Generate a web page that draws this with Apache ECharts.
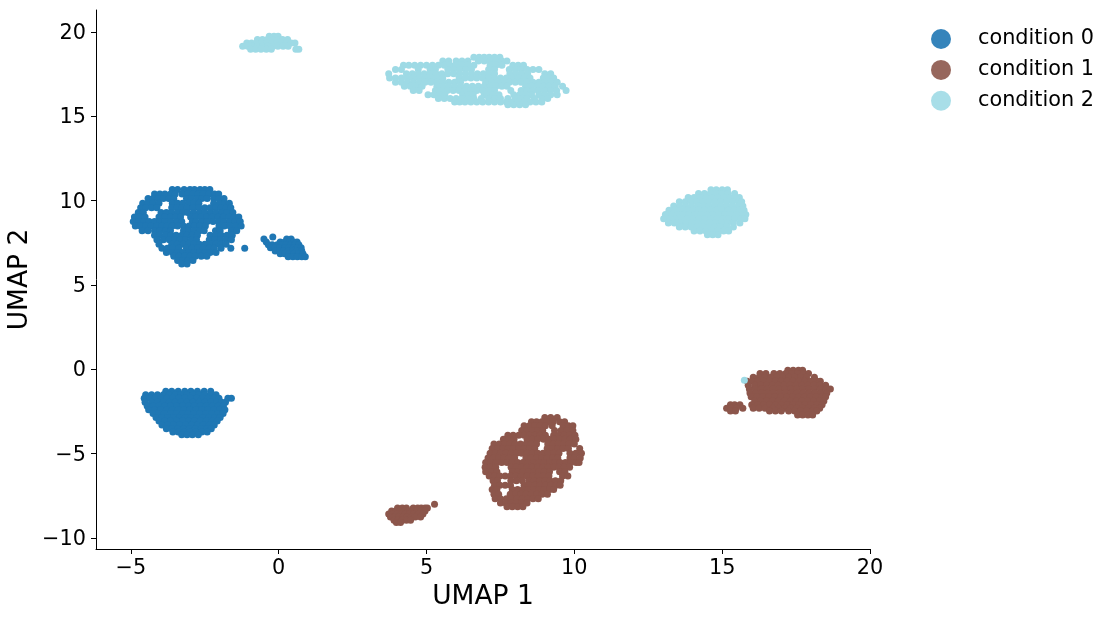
<!DOCTYPE html>
<html><head><meta charset="utf-8">
<script src="https://cdn.jsdelivr.net/npm/echarts@6/dist/echarts.min.js"></script>
<style>html,body{margin:0;background:#fff}#c{width:1112px;height:620px}</style></head>
<body><div id="c"></div>
<script>
// Each row: [y, x, x, x ...], data units.
const blueUpper = [
[10.66,-3.6,-3.42,-3.2,-3.0,-2.85,-2.66,-2.5,-2.33],
[10.4,-4.2,-4.02,-3.85,-3.66,-3.5,-3.27,-3.08,-2.9,-2.72,-2.55,-2.36,-2.17,-2.03],
[10.12,-4.42,-4.25,-4.07,-3.9,-3.72,-3.55,-3.12,-2.95,-2.75,-2.6,-2.42,-2.2,-2.02,-1.85],
[9.85,-4.6,-4.43,-4.25,-4.05,-3.6,-3.42,-3.25,-3.05,-2.87,-2.7,-2.2,-2.0,-1.83,-1.67],
[9.58,-4.67,-4.5,-4.3,-4.12,-3.62,-3.45,-3.27,-3.1,-2.9,-2.7,-2.5,-2.32,-2.13,-1.95,-1.78,-1.62],
[9.3,-4.75,-4.58,-3.98,-3.8,-3.62,-3.42,-3.25,-3.08,-2.88,-2.68,-2.5,-2.3,-2.12,-1.93,-1.75,-1.55],
[9.03,-4.88,-4.7,-4.52,-4.05,-3.85,-3.66,-3.48,-3.32,-2.98,-2.82,-2.63,-2.44,-2.25,-2.05,-1.87,-1.68,-1.5,-1.35],
[8.77,-4.92,-4.74,-4.56,-4.38,-4.2,-4.02,-3.84,-3.65,-3.45,-3.28,-2.92,-2.8,-2.6,-2.42,-2.22,-2.03,-1.85,-1.66,-1.48,-1.3],
[8.5,-4.85,-4.68,-4.5,-4.32,-4.13,-3.95,-3.78,-3.6,-3.42,-3.22,-3.03,-2.85,-2.67,-2.48,-2.02,-1.84,-1.65,-1.45,-1.27],
[8.22,-4.62,-4.42,-4.2,-4.02,-3.83,-3.66,-3.22,-3.05,-2.87,-2.68,-2.52,-2.14,-1.98,-1.6,-1.42],
[7.95,-4.2,-4.02,-3.83,-3.64,-3.47,-3.28,-3.1,-2.92,-2.75,-2.32,-2.13,-1.95,-1.75,-1.57],
[7.68,-4.12,-3.9,-3.7,-3.52,-3.33,-3.15,-2.95,-2.78,-2.35,-2.16,-1.97,-1.78,-1.6],
[7.42,-4.05,-3.62,-3.43,-3.24,-3.05,-2.87,-2.68,-2.5,-2.3,-2.13,-1.96,-1.78],
[7.18,-3.95,-3.77,-3.58,-3.38,-3.12,-2.93,-2.74,-2.55,-2.36,-2.18,-1.95,-1.62,-1.15],
[6.93,-3.8,-3.6,-3.43,-3.25,-3.05,-2.87,-2.68,-2.5,-2.32,-2.12],
[6.7,-3.55,-3.37,-3.18,-3.0,-2.82,-2.62,-2.43],
[6.45,-3.42,-3.25,-3.07,-2.9],
[6.25,-3.28,-3.1]
];
const blueSmall = [
[7.72,-0.5,0.27,0.42],[7.85,-0.2],
[7.55,-0.42,0.05,0.2,0.36,0.5,0.62],
[7.38,-0.35,-0.22,-0.05,0.1,0.25,0.4,0.55,0.68],
[7.2,-0.28,-0.12,0.03,0.2,0.34,0.5,0.63,0.76],
[7.02,-0.12,0.03,0.16,0.32,0.47,0.62,0.78],
[6.85,0.05,0.2,0.35,0.5,0.66,0.82],
[6.68,0.32,0.48,0.63,0.78,0.9],
];
const blueLower = [
[-1.3,-3.82,-3.62,-3.4,-3.18,-2.97,-2.75,-2.52,-2.3],
[-1.5,-4.5,-4.3,-4.1,-3.9,-3.7,-3.5,-3.3,-3.1,-2.9,-2.7,-2.5,-2.3,-2.12],
[-1.72,-4.55,-4.36,-4.17,-3.98,-3.78,-3.58,-3.38,-3.18,-2.98,-2.78,-2.58,-2.38,-2.18,-2.02,-1.72,-1.6],
[-1.95,-4.52,-4.3,-4.1,-3.9,-3.7,-3.5,-3.3,-3.1,-2.9,-2.7,-2.5,-2.3,-2.1,-1.94,-1.8],
[-2.17,-4.45,-4.25,-4.05,-3.85,-3.65,-3.45,-3.25,-3.05,-2.85,-2.65,-2.45,-2.25,-2.05,-1.87],
[-2.4,-4.4,-4.2,-4.0,-3.8,-3.6,-3.4,-3.2,-3.0,-2.8,-2.6,-2.4,-2.2,-2.0,-1.82],
[-2.62,-4.25,-4.06,-3.87,-3.66,-3.46,-3.26,-3.06,-2.86,-2.66,-2.46,-2.26,-2.06,-1.88],
[-2.85,-4.15,-3.96,-3.76,-3.56,-3.36,-3.16,-2.96,-2.76,-2.56,-2.36,-2.16,-1.98],
[-3.07,-4.05,-3.85,-3.65,-3.45,-3.25,-3.05,-2.85,-2.65,-2.45,-2.25,-2.08],
[-3.3,-3.95,-3.75,-3.55,-3.35,-3.15,-2.95,-2.75,-2.55,-2.35,-2.18],
[-3.52,-3.8,-3.62,-3.42,-3.22,-3.02,-2.82,-2.62,-2.42,-2.28],
[-3.72,-3.58,-3.4,-3.2,-3.0,-2.8,-2.6,-2.42],
[-3.88,-3.28,-3.1,-2.92,-2.72]
];
const brownBig = [
[-2.85,9.0,9.2,9.42],
[-3.1,8.55,8.72,8.9,9.08,9.28,9.5,9.67],
[-3.35,8.3,8.48,8.66,8.84,9.02,9.25,9.62,9.8,9.95],
[-3.62,8.22,8.4,8.58,8.76,8.93,9.33,9.55,9.75,9.95],
[-3.9,7.75,7.93,8.12,8.3,8.48,8.66,8.84,9.02,9.3,9.48,9.66,9.84,10.02],
[-4.15,7.6,7.78,7.96,8.4,8.58,8.76,8.96,9.14,9.32,9.5,9.68,9.86,10.05],
[-4.42,7.28,7.46,7.64,7.82,8.0,8.18,8.36,8.54,8.72,9.1,9.28,9.46,9.64,9.82,10.0],
[-4.7,7.22,7.4,7.58,7.76,7.94,8.12,8.3,8.48,8.66,9.08,9.26,9.44,9.62,9.8,10.18],
[-4.97,7.15,7.33,7.5,7.68,7.86,8.04,8.22,8.4,8.58,8.76,8.94,9.12,9.3,9.48,9.85,10.05,10.24],
[-5.25,7.08,7.26,7.44,7.62,7.8,7.98,8.36,8.54,8.72,8.9,9.08,9.26,9.44,9.85,10.0,10.2],
[-5.52,7.0,7.18,7.36,7.54,7.72,7.9,8.08,8.26,8.44,8.62,8.8,8.98,9.16,9.34,9.52,9.7,9.88,10.06,10.16],
[-5.8,6.98,7.16,7.34,7.86,8.04,8.22,8.4,8.58,8.76,8.94,9.12,9.3,9.48,9.66,9.84],
[-6.07,7.0,7.2,7.38,7.9,8.08,8.26,8.44,8.62,8.8,8.98,9.16,9.5,9.68],
[-6.33,7.12,7.3,7.48,7.66,7.84,8.02,8.2,8.4,8.6,8.78,8.96,9.14,9.6,9.78],
[-6.6,7.25,7.4,7.85,8.04,8.24,8.46,8.64,8.82,9.0,9.18,9.36,9.54],
[-6.87,7.3,7.48,7.66,7.84,8.3,8.48,8.66,8.84,9.02,9.2,9.38,9.52],
[-7.13,7.22,7.38,7.9,8.08,8.26,8.44,8.62,8.8,8.98,9.16,9.3],
[-7.4,7.28,7.44,7.83,8.01,8.19,8.37,8.55,8.73,8.91,9.09],
[-7.67,7.32,7.5,7.7,7.88,8.06,8.24,8.42,8.6,8.78],
[-7.92,7.5,7.68,7.86,8.04,8.22,8.4],
[-8.15,7.72,7.9,8.08,8.26]
];
const brownSmall = [
[-8.0,5.27],
[-8.22,4.02,4.18,4.32,4.55,4.7,4.82,4.95,5.03],
[-8.4,3.82,3.96,4.1,4.24,4.38,4.52,4.66,4.82,4.95],
[-8.58,3.72,3.86,4.0,4.14,4.28,4.42,4.56,4.72,4.88],
[-8.76,3.78,3.92,4.06,4.2,4.34,4.48,4.62,4.8],
[-8.94,3.9,4.04,4.18,4.32,4.46],
[-9.08,3.98,4.12]
];
const brownRight = [
[-0.05,17.22,17.4,17.58,17.72],
[-0.25,16.28,16.48,16.75,16.95,17.15,17.35,17.55,17.75,17.92],
[-0.47,16.05,16.25,16.45,16.65,16.85,17.05,17.25,17.45,17.65,17.85,18.12],
[-0.7,15.85,16.02,16.2,16.4,16.6,16.8,17.0,17.2,17.4,17.6,17.8,18.0,18.2,18.32],
[-0.94,15.88,16.1,16.3,16.5,16.7,16.9,17.1,17.3,17.5,17.7,17.9,18.1,18.3,18.5],
[-1.17,15.92,16.12,16.32,16.52,16.72,16.92,17.12,17.32,17.52,17.72,17.92,18.12,18.32,18.52,18.66],
[-1.4,15.94,16.14,16.34,16.54,16.74,16.94,17.14,17.34,17.54,17.74,17.94,18.14,18.34,18.54],
[-1.63,15.98,16.18,16.38,16.58,16.78,16.98,17.18,17.38,17.58,17.78,17.98,18.18,18.38,18.5],
[-1.87,16.1,16.3,16.5,16.7,16.9,17.1,17.3,17.5,17.7,17.9,18.1,18.3,18.44],
[-2.1,16.0,16.2,16.4,16.6,16.8,17.0,17.2,17.4,17.6,17.8,18.0,18.2,18.38,15.28,15.42,15.6],
[-2.3,15.15,15.3,15.48,15.7,16.05,16.25,16.45,16.72,16.92,17.12,17.32,17.52,17.72,17.92,18.12,18.3],
[-2.47,15.28,15.45,16.6,16.8,17.0,17.25,17.45,17.65,17.85,18.05,18.2],
[-2.7,17.55,17.72,17.9,18.06]
];
const cyanBig = [
[18.5,6.6,6.78,6.95,7.12,7.3,7.48],
[18.28,5.55,5.75,6.0,6.2,6.4,6.75,6.95,7.15,7.35,7.55,7.72],
[18.03,4.22,4.4,4.6,4.8,5.0,5.2,5.4,5.6,5.8,6.0,6.2,6.4,6.6,7.15,7.35,7.55,7.92,8.1,8.28],
[17.78,3.95,4.15,4.72,5.12,5.3,5.72,5.92,6.12,6.32,6.52,7.1,7.3,7.8,8.0,8.2,8.4,8.6,8.8],
[17.52,3.72,4.32,4.52,4.72,4.92,5.12,5.32,5.52,5.72,5.92,6.12,6.32,6.52,6.72,6.92,7.12,7.3,7.82,8.02,8.22,8.42,9.0,9.2],
[17.27,3.75,3.95,4.15,4.35,4.55,4.75,4.95,5.15,5.35,5.55,6.1,6.3,6.5,6.7,6.9,7.1,7.3,7.5,7.7,7.9,8.1,8.3,8.5,8.95,9.15,9.3],
[17.02,3.95,4.15,4.35,4.55,4.75,4.95,5.15,5.35,5.55,5.75,5.95,6.15,7.0,7.2,7.4,7.6,7.8,8.0,8.2,8.4,8.6,8.8,9.0,9.2,9.42],
[16.78,4.25,4.45,4.65,4.85,5.35,5.55,5.75,5.95,6.15,6.35,6.55,6.75,6.95,7.15,7.35,7.55,7.72,8.35,8.55,8.75,8.95,9.15,9.35,9.6],
[16.53,4.55,4.75,5.3,5.5,5.7,5.9,6.1,6.3,6.5,6.7,6.9,7.1,7.3,7.85,8.2,8.4,8.6,8.8,9.0,9.2,9.4,9.72],
[16.28,5.05,5.25,5.45,5.62,6.22,6.4,6.58,6.95,7.05,7.25,7.45,7.95,8.15,8.35,8.55,8.8,9.0,9.2,9.42],
[16.05,5.4,5.6,5.8,6.0,6.2,6.4,6.6,6.85,7.1,7.3,7.5,7.75,8.0,8.2,8.4,8.65,8.9,9.1],
[15.85,5.95,6.12,6.3,6.5,6.7,6.9,7.1,7.3,7.5,7.7,7.9,8.1,8.3,8.5,8.7,8.9],
[15.68,7.75,7.95,8.15,8.35]
];
const cyanTop = [
[19.75,-0.32,-0.16,-0.02],
[19.55,-0.72,-0.55,-0.38,-0.2,-0.03,0.13,0.3],
[19.35,-1.08,-0.92,-0.75,-0.58,-0.42,-0.25,-0.08,0.08,0.25,0.42,0.55],
[19.15,-1.22,-1.05,-0.88,-0.72,-0.55,-0.38,-0.2,-0.03,0.15,0.32],
[18.98,-0.95,-0.78,-0.6,-0.42,-0.25,0.58,0.68]
];
const cyanRight = [
[10.65,14.62,14.8,15.0,15.18],
[10.42,14.2,14.4,14.6,14.8,15.0,15.2,15.42],
[10.18,13.85,14.05,14.25,14.45,14.65,14.85,15.05,15.25,15.45,15.58],
[9.93,13.55,13.75,13.95,14.15,14.35,14.55,14.75,14.95,15.15,15.35,15.55,15.66],
[9.68,13.36,13.56,13.76,13.96,14.16,14.36,14.56,14.76,14.96,15.16,15.36,15.56,15.7],
[9.43,13.2,13.4,13.6,13.8,14.0,14.2,14.4,14.6,14.8,15.0,15.2,15.4,15.6,15.74],
[9.18,13.08,13.28,13.48,13.68,13.88,14.08,14.28,14.48,14.68,14.88,15.08,15.28,15.48,15.68,15.8],
[8.93,13.02,13.22,13.42,13.62,13.82,14.02,14.22,14.42,14.62,14.82,15.02,15.22,15.42,15.62,15.77],
[8.68,13.18,13.38,13.58,13.78,13.98,14.18,14.38,14.58,14.78,14.98,15.18,15.38,15.6],
[8.43,13.55,13.75,13.95,14.15,14.35,14.55,14.75,14.95,15.15,15.38],
[8.2,14.05,14.25,14.45,14.65,14.85,15.05,15.22],
[7.98,14.5,14.68,14.86]
];
const cyanStray = [[-0.65,15.75]];

const conditionNames = ['condition 0','condition 1','condition 2'];
const conditionColors = ['#1f77b4','#8c564b','#9edae5'];
const xTicks = [-5,0,5,10,15,20];
const yTicks = [-10,-5,0,5,10,15,20];

const pts = rows => rows.flatMap(r => r.slice(1).map(x => [x, r[0]]));
const groups = [
  [...blueUpper, ...blueSmall, ...blueLower],
  [...brownBig, ...brownSmall, ...brownRight],
  [...cyanBig, ...cyanTop, ...cyanRight, ...cyanStray]
];
const font = 'DejaVu Sans';
const fmt = v => String(v).replace('-', '\u2212');
const axis = (ticks, min, max, name, nameGap, labelExtra) => ({
  type:'value', min, max, name, nameLocation:'middle', nameGap, nameMoveOverlap:false,
  nameTextStyle:{fontFamily:font,fontSize:26.5,color:'#000'},
  splitLine:{show:false},
  axisLine:{show:true,onZero:false,lineStyle:{color:'#000',width:1}},
  axisTick:{show:true,length:5,customValues:ticks,lineStyle:{color:'#000',width:1}},
  axisLabel:Object.assign({fontFamily:font,fontSize:20.8,color:'#000',customValues:ticks,formatter:fmt},labelExtra)
});
const chart = echarts.init(document.getElementById('c'), null, {renderer:'canvas'});
chart.setOption({
  animation:false,
  backgroundColor:'#fff',
  grid:{left:96,right:242,top:10,bottom:71,outerBoundsMode:'none'},
  xAxis:axis(xTicks,-6.18,20,'UMAP 1',35,{margin:9}),
  yAxis:axis(yTicks,-10.65,21.3,'UMAP 2',62,{margin:10,verticalAlign:'top',lineHeight:3}),
  legend:{
    orient:'vertical',left:926,top:23.5,itemWidth:20,itemHeight:20,itemGap:9.9,
    icon:'circle',
    data:conditionNames,
    textStyle:{fontFamily:font,fontSize:20.8,color:'#000',padding:[0,0,0,22]},
    itemStyle:{opacity:0.9}
  },
  series:conditionNames.map((n,i)=>({
    name:n,type:'scatter',symbolSize:7,
    itemStyle:{color:conditionColors[i],opacity:1},
    data:pts(groups[i]),
    large:false,silent:true
  }))
});
</script></body></html>
